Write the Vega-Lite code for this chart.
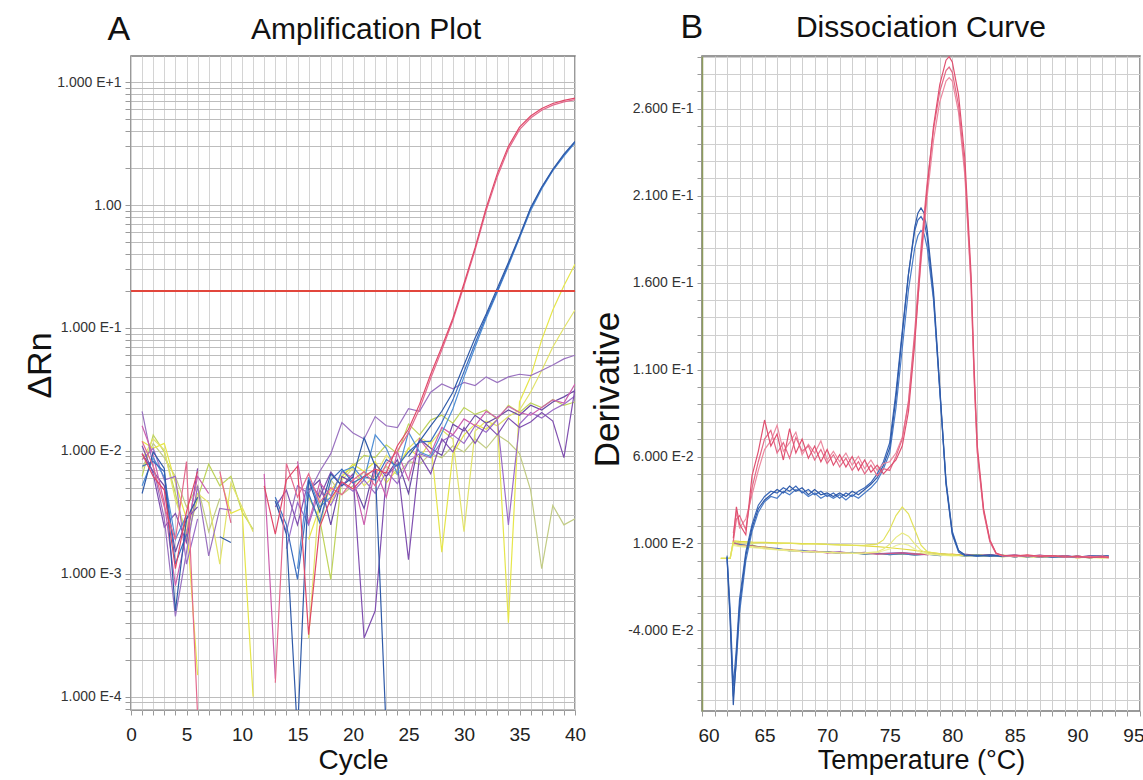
{
"$schema": "https://vega.github.io/schema/vega-lite/v6.json",
"background": "white",
"padding": {"left": 22, "top": 9, "right": 5, "bottom": 5},
"bounds": "flush",
"spacing": 127,
"config": {
  "font": "Liberation Sans",
  "view": {"stroke": "#7a7a7a", "strokeWidth": 1.5},
  "axis": {"labelFont": "Liberation Sans", "titleFont": "Liberation Sans", "titleFontWeight": "normal", "labelColor": "#333333", "titleColor": "#111111", "domain": false, "tickColor": "#9a9a9a", "labelOverlap": false, "labelBound": false},
  "title": {"font": "Liberation Sans", "fontWeight": "normal", "color": "#111111"}
},
"datasets": {
"amp": [
{"s":"G2","c":1,"v":0.0072},{"s":"G2","c":2,"v":0.0115},{"s":"G2","c":3,"v":0.0088},{"s":"G2","c":4,"v":0.0062},{"s":"G2","c":5,"v":0.0035},{"s":"G2","c":6,"v":0.0052},{"s":"G2","c":7,"v":0.0022},{"s":"G2","c":8,"v":0.0041},{"s":"G2","c":9,"v":null},{"s":"G2","c":10,"v":null},{"s":"G2","c":11,"v":null},{"s":"G2","c":12,"v":null},{"s":"G2","c":13,"v":null},{"s":"G2","c":14,"v":null},{"s":"G2","c":15,"v":null},{"s":"G2","c":16,"v":null},{"s":"G2","c":17,"v":0.0024},{"s":"G2","c":18,"v":0.0058},{"s":"G2","c":19,"v":0.0044},{"s":"G2","c":20,"v":0.0052},{"s":"G2","c":21,"v":0.0068},{"s":"G2","c":22,"v":0.0059},{"s":"G2","c":23,"v":0.0075},{"s":"G2","c":24,"v":0.0064},{"s":"G2","c":25,"v":0.0082},{"s":"G2","c":26,"v":0.0078},{"s":"G2","c":27,"v":0.0095},{"s":"G2","c":28,"v":0.0088},{"s":"G2","c":29,"v":0.011},{"s":"G2","c":30,"v":0.0098},{"s":"G2","c":31,"v":0.0125},{"s":"G2","c":32,"v":0.0105},{"s":"G2","c":33,"v":0.0135},{"s":"G2","c":34,"v":0.0118},{"s":"G2","c":35,"v":0.0095},{"s":"G2","c":36,"v":0.0048},{"s":"G2","c":37,"v":0.0011},{"s":"G2","c":38,"v":0.0036},{"s":"G2","c":39,"v":0.0025},{"s":"G2","c":40,"v":0.0028},
{"s":"G1","c":1,"v":0.0062},{"s":"G1","c":2,"v":0.0135},{"s":"G1","c":3,"v":0.0098},{"s":"G1","c":4,"v":0.0045},{"s":"G1","c":5,"v":0.0019},{"s":"G1","c":6,"v":0.0041},{"s":"G1","c":7,"v":0.0078},{"s":"G1","c":8,"v":0.0052},{"s":"G1","c":9,"v":0.0062},{"s":"G1","c":10,"v":0.0032},{"s":"G1","c":11,"v":0.0023},{"s":"G1","c":12,"v":null},{"s":"G1","c":13,"v":null},{"s":"G1","c":14,"v":null},{"s":"G1","c":15,"v":null},{"s":"G1","c":16,"v":0.0042},{"s":"G1","c":17,"v":0.0028},{"s":"G1","c":18,"v":0.0009},{"s":"G1","c":19,"v":0.0062},{"s":"G1","c":20,"v":0.0075},{"s":"G1","c":21,"v":0.0092},{"s":"G1","c":22,"v":0.0088},{"s":"G1","c":23,"v":0.0112},{"s":"G1","c":24,"v":0.0095},{"s":"G1","c":25,"v":0.0165},{"s":"G1","c":26,"v":0.0135},{"s":"G1","c":27,"v":0.0178},{"s":"G1","c":28,"v":0.0195},{"s":"G1","c":29,"v":0.0168},{"s":"G1","c":30,"v":0.0225},{"s":"G1","c":31,"v":0.0198},{"s":"G1","c":32,"v":0.0215},{"s":"G1","c":33,"v":0.018},{"s":"G1","c":34,"v":0.0235},{"s":"G1","c":35,"v":0.0205},{"s":"G1","c":36,"v":0.0245},{"s":"G1","c":37,"v":0.0225},{"s":"G1","c":38,"v":0.0262},{"s":"G1","c":39,"v":0.0235},{"s":"G1","c":40,"v":0.025},
{"s":"Y2","c":1,"v":0.0085},{"s":"Y2","c":2,"v":0.0125},{"s":"Y2","c":3,"v":0.0102},{"s":"Y2","c":4,"v":0.004},{"s":"Y2","c":5,"v":0.0022},{"s":"Y2","c":6,"v":0.0045},{"s":"Y2","c":7,"v":0.0038},{"s":"Y2","c":8,"v":0.0012},{"s":"Y2","c":9,"v":0.0055},{"s":"Y2","c":10,"v":0.0035},{"s":"Y2","c":11,"v":0.0022},{"s":"Y2","c":12,"v":null},{"s":"Y2","c":13,"v":null},{"s":"Y2","c":14,"v":null},{"s":"Y2","c":15,"v":null},{"s":"Y2","c":16,"v":0.0003},{"s":"Y2","c":17,"v":0.0048},{"s":"Y2","c":18,"v":0.0038},{"s":"Y2","c":19,"v":0.0058},{"s":"Y2","c":20,"v":0.0072},{"s":"Y2","c":21,"v":0.0052},{"s":"Y2","c":22,"v":0.0063},{"s":"Y2","c":23,"v":0.0092},{"s":"Y2","c":24,"v":0.0075},{"s":"Y2","c":25,"v":0.0105},{"s":"Y2","c":26,"v":0.0128},{"s":"Y2","c":27,"v":0.0115},{"s":"Y2","c":28,"v":0.0148},{"s":"Y2","c":29,"v":0.0125},{"s":"Y2","c":30,"v":0.0022},{"s":"Y2","c":31,"v":0.0145},{"s":"Y2","c":32,"v":0.0175},{"s":"Y2","c":33,"v":0.016},{"s":"Y2","c":34,"v":0.019},{"s":"Y2","c":35,"v":0.0215},{"s":"Y2","c":36,"v":0.03},{"s":"Y2","c":37,"v":0.045},{"s":"Y2","c":38,"v":0.07},{"s":"Y2","c":39,"v":0.1},{"s":"Y2","c":40,"v":0.14},
{"s":"Y1","c":1,"v":0.012},{"s":"Y1","c":2,"v":0.0105},{"s":"Y1","c":3,"v":0.0115},{"s":"Y1","c":4,"v":0.0055},{"s":"Y1","c":5,"v":0.0028},{"s":"Y1","c":6,"v":0.00015},{"s":"Y1","c":7,"v":null},{"s":"Y1","c":8,"v":0.0062},{"s":"Y1","c":9,"v":0.0031},{"s":"Y1","c":10,"v":0.0034},{"s":"Y1","c":11,"v":0.0001},{"s":"Y1","c":12,"v":null},{"s":"Y1","c":13,"v":null},{"s":"Y1","c":14,"v":null},{"s":"Y1","c":15,"v":null},{"s":"Y1","c":16,"v":0.0019},{"s":"Y1","c":17,"v":0.0035},{"s":"Y1","c":18,"v":0.0048},{"s":"Y1","c":19,"v":0.0062},{"s":"Y1","c":20,"v":0.0078},{"s":"Y1","c":21,"v":0.0068},{"s":"Y1","c":22,"v":0.0082},{"s":"Y1","c":23,"v":0.0055},{"s":"Y1","c":24,"v":0.0071},{"s":"Y1","c":25,"v":0.0105},{"s":"Y1","c":26,"v":0.0088},{"s":"Y1","c":27,"v":0.012},{"s":"Y1","c":28,"v":0.0015},{"s":"Y1","c":29,"v":0.0095},{"s":"Y1","c":30,"v":0.0135},{"s":"Y1","c":31,"v":0.0165},{"s":"Y1","c":32,"v":0.015},{"s":"Y1","c":33,"v":0.018},{"s":"Y1","c":34,"v":0.0004},{"s":"Y1","c":35,"v":0.025},{"s":"Y1","c":36,"v":0.04},{"s":"Y1","c":37,"v":0.08},{"s":"Y1","c":38,"v":0.14},{"s":"Y1","c":39,"v":0.22},{"s":"Y1","c":40,"v":0.33},
{"s":"P4","c":1,"v":0.0095},{"s":"P4","c":2,"v":0.0068},{"s":"P4","c":3,"v":0.0052},{"s":"P4","c":4,"v":0.0015},{"s":"P4","c":5,"v":0.0028},{"s":"P4","c":6,"v":0.0035},{"s":"P4","c":7,"v":null},{"s":"P4","c":8,"v":null},{"s":"P4","c":9,"v":null},{"s":"P4","c":10,"v":null},{"s":"P4","c":11,"v":null},{"s":"P4","c":12,"v":null},{"s":"P4","c":13,"v":null},{"s":"P4","c":14,"v":null},{"s":"P4","c":15,"v":null},{"s":"P4","c":16,"v":0.0048},{"s":"P4","c":17,"v":0.0058},{"s":"P4","c":18,"v":0.0025},{"s":"P4","c":19,"v":0.0062},{"s":"P4","c":20,"v":0.0055},{"s":"P4","c":21,"v":0.0034},{"s":"P4","c":22,"v":0.0078},{"s":"P4","c":23,"v":0.0062},{"s":"P4","c":24,"v":0.0085},{"s":"P4","c":25,"v":0.0045},{"s":"P4","c":26,"v":0.0125},{"s":"P4","c":27,"v":0.0105},{"s":"P4","c":28,"v":0.0092},{"s":"P4","c":29,"v":0.0165},{"s":"P4","c":30,"v":0.0145},{"s":"P4","c":31,"v":0.0195},{"s":"P4","c":32,"v":0.0168},{"s":"P4","c":33,"v":0.0188},{"s":"P4","c":34,"v":0.0215},{"s":"P4","c":35,"v":0.0195},{"s":"P4","c":36,"v":0.0235},{"s":"P4","c":37,"v":0.0215},{"s":"P4","c":38,"v":0.025},{"s":"P4","c":39,"v":0.0275},{"s":"P4","c":40,"v":0.031},
{"s":"P3","c":1,"v":0.0085},{"s":"P3","c":2,"v":0.0105},{"s":"P3","c":3,"v":0.0058},{"s":"P3","c":4,"v":0.0062},{"s":"P3","c":5,"v":0.0012},{"s":"P3","c":6,"v":0.0028},{"s":"P3","c":7,"v":null},{"s":"P3","c":8,"v":null},{"s":"P3","c":9,"v":null},{"s":"P3","c":10,"v":null},{"s":"P3","c":11,"v":null},{"s":"P3","c":12,"v":null},{"s":"P3","c":13,"v":null},{"s":"P3","c":14,"v":0.0016},{"s":"P3","c":15,"v":0.0038},{"s":"P3","c":16,"v":0.0025},{"s":"P3","c":17,"v":0.0048},{"s":"P3","c":18,"v":0.0036},{"s":"P3","c":19,"v":0.0055},{"s":"P3","c":20,"v":0.0047},{"s":"P3","c":21,"v":0.0058},{"s":"P3","c":22,"v":0.0045},{"s":"P3","c":23,"v":0.0068},{"s":"P3","c":24,"v":0.0054},{"s":"P3","c":25,"v":0.0082},{"s":"P3","c":26,"v":0.0095},{"s":"P3","c":27,"v":0.0088},{"s":"P3","c":28,"v":0.012},{"s":"P3","c":29,"v":0.0135},{"s":"P3","c":30,"v":0.0115},{"s":"P3","c":31,"v":0.016},{"s":"P3","c":32,"v":0.0142},{"s":"P3","c":33,"v":0.018},{"s":"P3","c":34,"v":0.0025},{"s":"P3","c":35,"v":0.0165},{"s":"P3","c":36,"v":0.0205},{"s":"P3","c":37,"v":0.0185},{"s":"P3","c":38,"v":0.0215},{"s":"P3","c":39,"v":0.024},{"s":"P3","c":40,"v":0.028},
{"s":"P2","c":1,"v":0.011},{"s":"P2","c":2,"v":0.0065},{"s":"P2","c":3,"v":0.0024},{"s":"P2","c":4,"v":0.0031},{"s":"P2","c":5,"v":0.0018},{"s":"P2","c":6,"v":0.0072},{"s":"P2","c":7,"v":null},{"s":"P2","c":8,"v":null},{"s":"P2","c":9,"v":null},{"s":"P2","c":10,"v":null},{"s":"P2","c":11,"v":null},{"s":"P2","c":12,"v":null},{"s":"P2","c":13,"v":0.0035},{"s":"P2","c":14,"v":0.0048},{"s":"P2","c":15,"v":0.0025},{"s":"P2","c":16,"v":0.0058},{"s":"P2","c":17,"v":0.0042},{"s":"P2","c":18,"v":0.0067},{"s":"P2","c":19,"v":0.0052},{"s":"P2","c":20,"v":0.0065},{"s":"P2","c":21,"v":0.0003},{"s":"P2","c":22,"v":0.0005},{"s":"P2","c":23,"v":0.0062},{"s":"P2","c":24,"v":0.0078},{"s":"P2","c":25,"v":0.0013},{"s":"P2","c":26,"v":0.0092},{"s":"P2","c":27,"v":0.0065},{"s":"P2","c":28,"v":0.0125},{"s":"P2","c":29,"v":0.0098},{"s":"P2","c":30,"v":0.0155},{"s":"P2","c":31,"v":0.0115},{"s":"P2","c":32,"v":0.0165},{"s":"P2","c":33,"v":0.0135},{"s":"P2","c":34,"v":0.0185},{"s":"P2","c":35,"v":0.0155},{"s":"P2","c":36,"v":0.0172},{"s":"P2","c":37,"v":0.0205},{"s":"P2","c":38,"v":0.0175},{"s":"P2","c":39,"v":0.0088},{"s":"P2","c":40,"v":0.032},
{"s":"P1","c":1,"v":0.021},{"s":"P1","c":2,"v":0.0075},{"s":"P1","c":3,"v":0.0028},{"s":"P1","c":4,"v":0.00045},{"s":"P1","c":5,"v":0.0015},{"s":"P1","c":6,"v":0.0052},{"s":"P1","c":7,"v":0.0014},{"s":"P1","c":8,"v":0.0034},{"s":"P1","c":9,"v":0.0033},{"s":"P1","c":10,"v":null},{"s":"P1","c":11,"v":null},{"s":"P1","c":12,"v":null},{"s":"P1","c":13,"v":0.0039},{"s":"P1","c":14,"v":0.0022},{"s":"P1","c":15,"v":0.0052},{"s":"P1","c":16,"v":0.0045},{"s":"P1","c":17,"v":0.0068},{"s":"P1","c":18,"v":0.0095},{"s":"P1","c":19,"v":0.017},{"s":"P1","c":20,"v":0.014},{"s":"P1","c":21,"v":0.0125},{"s":"P1","c":22,"v":0.019},{"s":"P1","c":23,"v":0.016},{"s":"P1","c":24,"v":0.0155},{"s":"P1","c":25,"v":0.022},{"s":"P1","c":26,"v":0.021},{"s":"P1","c":27,"v":0.03},{"s":"P1","c":28,"v":0.035},{"s":"P1","c":29,"v":0.032},{"s":"P1","c":30,"v":0.036},{"s":"P1","c":31,"v":0.034},{"s":"P1","c":32,"v":0.04},{"s":"P1","c":33,"v":0.036},{"s":"P1","c":34,"v":0.04},{"s":"P1","c":35,"v":0.042},{"s":"P1","c":36,"v":0.041},{"s":"P1","c":37,"v":0.045},{"s":"P1","c":38,"v":0.05},{"s":"P1","c":39,"v":0.056},{"s":"P1","c":40,"v":0.06},
{"s":"M1","c":1,"v":0.016},{"s":"M1","c":2,"v":0.0092},{"s":"M1","c":3,"v":0.0038},{"s":"M1","c":4,"v":0.0008},{"s":"M1","c":5,"v":0.0021},{"s":"M1","c":6,"v":0.0062},{"s":"M1","c":7,"v":0.0045},{"s":"M1","c":8,"v":null},{"s":"M1","c":9,"v":null},{"s":"M1","c":10,"v":null},{"s":"M1","c":11,"v":null},{"s":"M1","c":12,"v":0.0065},{"s":"M1","c":13,"v":0.00014},{"s":"M1","c":14,"v":null},{"s":"M1","c":15,"v":0.0082},{"s":"M1","c":16,"v":0.0026},{"s":"M1","c":17,"v":0.0055},{"s":"M1","c":18,"v":0.0043},{"s":"M1","c":19,"v":0.0068},{"s":"M1","c":20,"v":0.006},{"s":"M1","c":21,"v":0.0025},{"s":"M1","c":22,"v":0.0072},{"s":"M1","c":23,"v":0.0042},{"s":"M1","c":24,"v":0.0098},{"s":"M1","c":25,"v":0.0058},{"s":"M1","c":26,"v":0.0125},{"s":"M1","c":27,"v":0.0095},{"s":"M1","c":28,"v":0.0155},{"s":"M1","c":29,"v":0.0135},{"s":"M1","c":30,"v":0.0182},{"s":"M1","c":31,"v":0.016},{"s":"M1","c":32,"v":0.021},{"s":"M1","c":33,"v":0.0185},{"s":"M1","c":34,"v":0.023},{"s":"M1","c":35,"v":0.0205},{"s":"M1","c":36,"v":0.0195},{"s":"M1","c":37,"v":0.0225},{"s":"M1","c":38,"v":0.026},{"s":"M1","c":39,"v":0.0245},{"s":"M1","c":40,"v":0.035},
{"s":"B3","c":1,"v":0.0052},{"s":"B3","c":2,"v":0.0088},{"s":"B3","c":3,"v":0.0061},{"s":"B3","c":4,"v":0.0019},{"s":"B3","c":5,"v":0.003},{"s":"B3","c":6,"v":null},{"s":"B3","c":7,"v":null},{"s":"B3","c":8,"v":null},{"s":"B3","c":9,"v":null},{"s":"B3","c":10,"v":null},{"s":"B3","c":11,"v":null},{"s":"B3","c":12,"v":null},{"s":"B3","c":13,"v":null},{"s":"B3","c":14,"v":null},{"s":"B3","c":15,"v":0.0011},{"s":"B3","c":16,"v":0.0061},{"s":"B3","c":17,"v":0.0035},{"s":"B3","c":18,"v":0.0042},{"s":"B3","c":19,"v":0.0068},{"s":"B3","c":20,"v":0.0074},{"s":"B3","c":21,"v":0.0058},{"s":"B3","c":22,"v":0.0135},{"s":"B3","c":23,"v":0.0105},{"s":"B3","c":24,"v":0.0065},{"s":"B3","c":25,"v":0.0142},{"s":"B3","c":26,"v":0.0098},{"s":"B3","c":27,"v":0.009},{"s":"B3","c":28,"v":0.014},{"s":"B3","c":29,"v":0.022},{"s":"B3","c":30,"v":0.04},{"s":"B3","c":31,"v":0.07},{"s":"B3","c":32,"v":0.12},{"s":"B3","c":33,"v":0.195},{"s":"B3","c":34,"v":0.32},{"s":"B3","c":35,"v":0.54},{"s":"B3","c":36,"v":0.9},{"s":"B3","c":37,"v":1.35},{"s":"B3","c":38,"v":1.9},{"s":"B3","c":39,"v":2.5},{"s":"B3","c":40,"v":3.2},
{"s":"B2","c":1,"v":0.0075},{"s":"B2","c":2,"v":0.0082},{"s":"B2","c":3,"v":0.0068},{"s":"B2","c":4,"v":0.0012},{"s":"B2","c":5,"v":0.0021},{"s":"B2","c":6,"v":null},{"s":"B2","c":7,"v":null},{"s":"B2","c":8,"v":null},{"s":"B2","c":9,"v":null},{"s":"B2","c":10,"v":null},{"s":"B2","c":11,"v":null},{"s":"B2","c":12,"v":null},{"s":"B2","c":13,"v":0.0042},{"s":"B2","c":14,"v":0.0025},{"s":"B2","c":15,"v":0.0009},{"s":"B2","c":16,"v":0.0045},{"s":"B2","c":17,"v":0.0026},{"s":"B2","c":18,"v":0.0058},{"s":"B2","c":19,"v":0.0071},{"s":"B2","c":20,"v":0.0055},{"s":"B2","c":21,"v":0.0062},{"s":"B2","c":22,"v":0.0058},{"s":"B2","c":23,"v":0.0085},{"s":"B2","c":24,"v":0.0075},{"s":"B2","c":25,"v":0.0098},{"s":"B2","c":26,"v":0.0118},{"s":"B2","c":27,"v":0.012},{"s":"B2","c":28,"v":0.017},{"s":"B2","c":29,"v":0.026},{"s":"B2","c":30,"v":0.044},{"s":"B2","c":31,"v":0.075},{"s":"B2","c":32,"v":0.125},{"s":"B2","c":33,"v":0.2},{"s":"B2","c":34,"v":0.33},{"s":"B2","c":35,"v":0.55},{"s":"B2","c":36,"v":0.93},{"s":"B2","c":37,"v":1.38},{"s":"B2","c":38,"v":1.92},{"s":"B2","c":39,"v":2.55},{"s":"B2","c":40,"v":3.25},
{"s":"B1","c":1,"v":0.0045},{"s":"B1","c":2,"v":0.0098},{"s":"B1","c":3,"v":0.0072},{"s":"B1","c":4,"v":0.0005},{"s":"B1","c":5,"v":0.0028},{"s":"B1","c":6,"v":0.0042},{"s":"B1","c":7,"v":null},{"s":"B1","c":8,"v":0.002},{"s":"B1","c":9,"v":0.0018},{"s":"B1","c":10,"v":null},{"s":"B1","c":11,"v":null},{"s":"B1","c":12,"v":null},{"s":"B1","c":13,"v":0.0039},{"s":"B1","c":14,"v":0.0021},{"s":"B1","c":15,"v":0.00005},{"s":"B1","c":16,"v":0.0058},{"s":"B1","c":17,"v":0.0032},{"s":"B1","c":18,"v":0.0065},{"s":"B1","c":19,"v":0.0052},{"s":"B1","c":20,"v":0.0061},{"s":"B1","c":21,"v":0.0128},{"s":"B1","c":22,"v":0.0075},{"s":"B1","c":23,"v":0.00005},{"s":"B1","c":24,"v":null},{"s":"B1","c":25,"v":0.009},{"s":"B1","c":26,"v":0.012},{"s":"B1","c":27,"v":0.016},{"s":"B1","c":28,"v":0.021},{"s":"B1","c":29,"v":0.03},{"s":"B1","c":30,"v":0.05},{"s":"B1","c":31,"v":0.083},{"s":"B1","c":32,"v":0.13},{"s":"B1","c":33,"v":0.21},{"s":"B1","c":34,"v":0.34},{"s":"B1","c":35,"v":0.56},{"s":"B1","c":36,"v":0.95},{"s":"B1","c":37,"v":1.4},{"s":"B1","c":38,"v":1.95},{"s":"B1","c":39,"v":2.6},{"s":"B1","c":40,"v":3.3},
{"s":"R2","c":1,"v":0.012},{"s":"R2","c":2,"v":0.0075},{"s":"R2","c":3,"v":0.0035},{"s":"R2","c":4,"v":0.0019},{"s":"R2","c":5,"v":0.0082},{"s":"R2","c":6,"v":0.00007},{"s":"R2","c":7,"v":null},{"s":"R2","c":8,"v":0.0068},{"s":"R2","c":9,"v":0.0026},{"s":"R2","c":10,"v":null},{"s":"R2","c":11,"v":null},{"s":"R2","c":12,"v":null},{"s":"R2","c":13,"v":0.00013},{"s":"R2","c":14,"v":0.0079},{"s":"R2","c":15,"v":0.0042},{"s":"R2","c":16,"v":0.0065},{"s":"R2","c":17,"v":0.0038},{"s":"R2","c":18,"v":0.005},{"s":"R2","c":19,"v":0.0044},{"s":"R2","c":20,"v":0.0058},{"s":"R2","c":21,"v":0.0068},{"s":"R2","c":22,"v":0.0052},{"s":"R2","c":23,"v":0.0078},{"s":"R2","c":24,"v":0.01},{"s":"R2","c":25,"v":0.014},{"s":"R2","c":26,"v":0.022},{"s":"R2","c":27,"v":0.039},{"s":"R2","c":28,"v":0.066},{"s":"R2","c":29,"v":0.115},{"s":"R2","c":30,"v":0.22},{"s":"R2","c":31,"v":0.43},{"s":"R2","c":32,"v":0.9},{"s":"R2","c":33,"v":1.7},{"s":"R2","c":34,"v":2.85},{"s":"R2","c":35,"v":4.1},{"s":"R2","c":36,"v":5.1},{"s":"R2","c":37,"v":5.9},{"s":"R2","c":38,"v":6.5},{"s":"R2","c":39,"v":6.9},{"s":"R2","c":40,"v":7.2},
{"s":"R1","c":1,"v":0.0095},{"s":"R1","c":2,"v":0.0062},{"s":"R1","c":3,"v":0.0048},{"s":"R1","c":4,"v":0.0011},{"s":"R1","c":5,"v":0.0032},{"s":"R1","c":6,"v":0.0068},{"s":"R1","c":7,"v":null},{"s":"R1","c":8,"v":null},{"s":"R1","c":9,"v":null},{"s":"R1","c":10,"v":null},{"s":"R1","c":11,"v":null},{"s":"R1","c":12,"v":0.0052},{"s":"R1","c":13,"v":0.0021},{"s":"R1","c":14,"v":0.0058},{"s":"R1","c":15,"v":0.0075},{"s":"R1","c":16,"v":0.00032},{"s":"R1","c":17,"v":0.0024},{"s":"R1","c":18,"v":0.0041},{"s":"R1","c":19,"v":0.0056},{"s":"R1","c":20,"v":0.0049},{"s":"R1","c":21,"v":0.0062},{"s":"R1","c":22,"v":0.0071},{"s":"R1","c":23,"v":0.0066},{"s":"R1","c":24,"v":0.011},{"s":"R1","c":25,"v":0.015},{"s":"R1","c":26,"v":0.024},{"s":"R1","c":27,"v":0.042},{"s":"R1","c":28,"v":0.07},{"s":"R1","c":29,"v":0.12},{"s":"R1","c":30,"v":0.23},{"s":"R1","c":31,"v":0.45},{"s":"R1","c":32,"v":0.95},{"s":"R1","c":33,"v":1.8},{"s":"R1","c":34,"v":3.0},{"s":"R1","c":35,"v":4.3},{"s":"R1","c":36,"v":5.3},{"s":"R1","c":37,"v":6.1},{"s":"R1","c":38,"v":6.7},{"s":"R1","c":39,"v":7.1},{"s":"R1","c":40,"v":7.4}
],
"flat": [
{"s":"F1","t":62.5,"v":0.011},{"s":"F1","t":63,"v":0.0092},{"s":"F1","t":64,"v":0.0084},{"s":"F1","t":65,"v":0.0076},{"s":"F1","t":66,"v":0.0065},{"s":"F1","t":67,"v":0.0061},{"s":"F1","t":68,"v":0.0052},{"s":"F1","t":69,"v":0.0056},{"s":"F1","t":70,"v":0.0047},{"s":"F1","t":71,"v":0.0051},{"s":"F1","t":72,"v":0.0043},{"s":"F1","t":73,"v":0.0048},{"s":"F1","t":74,"v":0.004},{"s":"F1","t":75,"v":0.0045},{"s":"F1","t":76,"v":0.0047},{"s":"F1","t":77,"v":0.0041},{"s":"F1","t":78,"v":0.0036},{"s":"F1","t":79,"v":0.0042},{"s":"F1","t":80,"v":0.0033},{"s":"F1","t":81,"v":0.0038},{"s":"F1","t":82,"v":0.003},{"s":"F1","t":83,"v":0.0036},{"s":"F1","t":84,"v":0.0028},{"s":"F1","t":85,"v":0.0034},{"s":"F1","t":86,"v":0.0026},{"s":"F1","t":87,"v":0.0033},{"s":"F1","t":88,"v":0.0024},{"s":"F1","t":89,"v":0.003},{"s":"F1","t":90,"v":0.0021},{"s":"F1","t":91,"v":0.0028},{"s":"F1","t":92,"v":0.0023},{"s":"F1","t":92.5,"v":0.0027},
{"s":"F2","t":62.5,"v":0.0095},{"s":"F2","t":63,"v":0.0098},{"s":"F2","t":64,"v":0.0079},{"s":"F2","t":65,"v":0.0081},{"s":"F2","t":66,"v":0.0068},{"s":"F2","t":67,"v":0.0064},{"s":"F2","t":68,"v":0.0058},{"s":"F2","t":69,"v":0.0051},{"s":"F2","t":70,"v":0.0053},{"s":"F2","t":71,"v":0.0045},{"s":"F2","t":72,"v":0.0047},{"s":"F2","t":73,"v":0.0041},{"s":"F2","t":74,"v":0.0045},{"s":"F2","t":75,"v":0.0038},{"s":"F2","t":76,"v":0.0043},{"s":"F2","t":77,"v":0.0037},{"s":"F2","t":78,"v":0.004},{"s":"F2","t":79,"v":0.0033},{"s":"F2","t":80,"v":0.0038},{"s":"F2","t":81,"v":0.003},{"s":"F2","t":82,"v":0.0035},{"s":"F2","t":83,"v":0.0027},{"s":"F2","t":84,"v":0.0033},{"s":"F2","t":85,"v":0.0025},{"s":"F2","t":86,"v":0.0031},{"s":"F2","t":87,"v":0.0023},{"s":"F2","t":88,"v":0.003},{"s":"F2","t":89,"v":0.0021},{"s":"F2","t":90,"v":0.0027},{"s":"F2","t":91,"v":0.002},{"s":"F2","t":92,"v":0.0026},{"s":"F2","t":92.5,"v":0.0018},
{"s":"F3","t":62.5,"v":0.0105},{"s":"F3","t":63,"v":0.0087},{"s":"F3","t":64,"v":0.009},{"s":"F3","t":65,"v":0.0072},{"s":"F3","t":66,"v":0.0069},{"s":"F3","t":67,"v":0.0059},{"s":"F3","t":68,"v":0.0055},{"s":"F3","t":69,"v":0.0049},{"s":"F3","t":70,"v":0.005},{"s":"F3","t":71,"v":0.0043},{"s":"F3","t":72,"v":0.0046},{"s":"F3","t":73,"v":0.0039},{"s":"F3","t":74,"v":0.0043},{"s":"F3","t":75,"v":0.0036},{"s":"F3","t":76,"v":0.004},{"s":"F3","t":77,"v":0.0034},{"s":"F3","t":78,"v":0.0039},{"s":"F3","t":79,"v":0.0031},{"s":"F3","t":80,"v":0.0036},{"s":"F3","t":81,"v":0.0028},{"s":"F3","t":82,"v":0.0034},{"s":"F3","t":83,"v":0.0026},{"s":"F3","t":84,"v":0.0031},{"s":"F3","t":85,"v":0.0024},{"s":"F3","t":86,"v":0.0029},{"s":"F3","t":87,"v":0.0022},{"s":"F3","t":88,"v":0.0028},{"s":"F3","t":89,"v":0.002},{"s":"F3","t":90,"v":0.0025},{"s":"F3","t":91,"v":0.0019},{"s":"F3","t":92,"v":0.0024},{"s":"F3","t":92.5,"v":0.0021},
{"s":"F4","t":62.5,"v":0.0098},{"s":"F4","t":63,"v":0.0094},{"s":"F4","t":64,"v":0.0082},{"s":"F4","t":65,"v":0.0074},{"s":"F4","t":66,"v":0.0071},{"s":"F4","t":67,"v":0.0057},{"s":"F4","t":68,"v":0.006},{"s":"F4","t":69,"v":0.0048},{"s":"F4","t":70,"v":0.0052},{"s":"F4","t":71,"v":0.0042},{"s":"F4","t":72,"v":0.0048},{"s":"F4","t":73,"v":0.0038},{"s":"F4","t":74,"v":0.0044},{"s":"F4","t":75,"v":0.0035},{"s":"F4","t":76,"v":0.0041},{"s":"F4","t":77,"v":0.0033},{"s":"F4","t":78,"v":0.0038},{"s":"F4","t":79,"v":0.003},{"s":"F4","t":80,"v":0.0035},{"s":"F4","t":81,"v":0.0027},{"s":"F4","t":82,"v":0.0033},{"s":"F4","t":83,"v":0.0025},{"s":"F4","t":84,"v":0.0032},{"s":"F4","t":85,"v":0.0023},{"s":"F4","t":86,"v":0.003},{"s":"F4","t":87,"v":0.0021},{"s":"F4","t":88,"v":0.0029},{"s":"F4","t":89,"v":0.0019},{"s":"F4","t":90,"v":0.0028},{"s":"F4","t":91,"v":0.0016},{"s":"F4","t":92,"v":0.0031},{"s":"F4","t":92.5,"v":0.0024},
{"s":"F5","t":62.5,"v":0.0102},{"s":"F5","t":63,"v":0.0089},{"s":"F5","t":64,"v":0.0086},{"s":"F5","t":65,"v":0.0073},{"s":"F5","t":66,"v":0.0066},{"s":"F5","t":67,"v":0.0062},{"s":"F5","t":68,"v":0.0053},{"s":"F5","t":69,"v":0.0054},{"s":"F5","t":70,"v":0.0046},{"s":"F5","t":71,"v":0.0049},{"s":"F5","t":72,"v":0.0042},{"s":"F5","t":73,"v":0.0045},{"s":"F5","t":74,"v":0.0038},{"s":"F5","t":75,"v":0.0042},{"s":"F5","t":76,"v":0.0045},{"s":"F5","t":77,"v":0.0038},{"s":"F5","t":78,"v":0.0035},{"s":"F5","t":79,"v":0.004},{"s":"F5","t":80,"v":0.0031},{"s":"F5","t":81,"v":0.0036},{"s":"F5","t":82,"v":0.0029},{"s":"F5","t":83,"v":0.0034},{"s":"F5","t":84,"v":0.0026},{"s":"F5","t":85,"v":0.0032},{"s":"F5","t":86,"v":0.0024},{"s":"F5","t":87,"v":0.003},{"s":"F5","t":88,"v":0.0022},{"s":"F5","t":89,"v":0.0029},{"s":"F5","t":90,"v":0.0017},{"s":"F5","t":91,"v":0.0027},{"s":"F5","t":92,"v":0.002},{"s":"F5","t":92.5,"v":0.0016},
{"s":"F6","t":61.5,"v":0.0014},{"s":"F6","t":62,"v":0.0014},{"s":"F6","t":62.25,"v":0.0014},{"s":"F6","t":62.5,"v":0.0115},{"s":"F6","t":63,"v":0.0112},{"s":"F6","t":64,"v":0.0108},{"s":"F6","t":65,"v":0.0106},{"s":"F6","t":66,"v":0.0104},{"s":"F6","t":67,"v":0.0102},{"s":"F6","t":68,"v":0.0099},{"s":"F6","t":69,"v":0.0097},{"s":"F6","t":70,"v":0.0095},{"s":"F6","t":71,"v":0.0092},{"s":"F6","t":72,"v":0.009},{"s":"F6","t":73,"v":0.0086},{"s":"F6","t":74,"v":0.0082},{"s":"F6","t":75,"v":0.0075},{"s":"F6","t":76,"v":0.0068},{"s":"F6","t":77,"v":0.006},{"s":"F6","t":78,"v":0.005},{"s":"F6","t":79,"v":0.0042},{"s":"F6","t":80,"v":0.0036},{"s":"F6","t":81,"v":0.0031},{"s":"F6","t":82,"v":0.0028},{"s":"F6","t":83,"v":0.0032},{"s":"F6","t":84,"v":0.0025},{"s":"F6","t":85,"v":0.0029},{"s":"F6","t":86,"v":0.0022},{"s":"F6","t":87,"v":0.0027},{"s":"F6","t":88,"v":0.002},{"s":"F6","t":89,"v":0.0025},{"s":"F6","t":90,"v":0.0018},{"s":"F6","t":91,"v":0.0023},{"s":"F6","t":92,"v":0.0019},{"s":"F6","t":92.5,"v":0.0022}
],
"melt": [
{"s":"Y3","t":62.5,"v":0.0088},{"s":"Y3","t":63,"v":0.0082},{"s":"Y3","t":64,"v":0.0076},{"s":"Y3","t":65,"v":0.0069},{"s":"Y3","t":66,"v":0.0063},{"s":"Y3","t":67,"v":0.0057},{"s":"Y3","t":68,"v":0.0054},{"s":"Y3","t":69,"v":0.005},{"s":"Y3","t":70,"v":0.0049},{"s":"Y3","t":71,"v":0.0045},{"s":"Y3","t":72,"v":0.0043},{"s":"Y3","t":73,"v":0.0044},{"s":"Y3","t":74,"v":0.0048},{"s":"Y3","t":75,"v":0.0068},{"s":"Y3","t":75.5,"v":0.0088},{"s":"Y3","t":76,"v":0.0098},{"s":"Y3","t":76.5,"v":0.009},{"s":"Y3","t":77,"v":0.0068},{"s":"Y3","t":77.5,"v":0.0048},{"s":"Y3","t":78,"v":0.0038},{"s":"Y3","t":79,"v":0.0033},{"s":"Y3","t":80,"v":0.0028},{"s":"Y3","t":81,"v":0.0031},{"s":"Y3","t":82,"v":0.0025},{"s":"Y3","t":83,"v":0.0029},{"s":"Y3","t":84,"v":0.0022},{"s":"Y3","t":85,"v":0.0027},{"s":"Y3","t":86,"v":0.002},{"s":"Y3","t":87,"v":0.0025},{"s":"Y3","t":88,"v":0.0019},{"s":"Y3","t":89,"v":0.0023},{"s":"Y3","t":90,"v":0.0017},{"s":"Y3","t":91,"v":0.0021},{"s":"Y3","t":92,"v":0.0016},{"s":"Y3","t":92.5,"v":0.0019},
{"s":"Y2","t":61.5,"v":0.0014},{"s":"Y2","t":62,"v":0.0014},{"s":"Y2","t":62.25,"v":0.0014},{"s":"Y2","t":62.5,"v":0.0095},{"s":"Y2","t":63,"v":0.0088},{"s":"Y2","t":64,"v":0.0082},{"s":"Y2","t":65,"v":0.0074},{"s":"Y2","t":66,"v":0.0066},{"s":"Y2","t":67,"v":0.0061},{"s":"Y2","t":68,"v":0.0055},{"s":"Y2","t":69,"v":0.0052},{"s":"Y2","t":70,"v":0.0048},{"s":"Y2","t":71,"v":0.0046},{"s":"Y2","t":72,"v":0.0044},{"s":"Y2","t":73,"v":0.0046},{"s":"Y2","t":74,"v":0.0052},{"s":"Y2","t":74.5,"v":0.0068},{"s":"Y2","t":75,"v":0.0095},{"s":"Y2","t":75.5,"v":0.0135},{"s":"Y2","t":76,"v":0.016},{"s":"Y2","t":76.5,"v":0.0142},{"s":"Y2","t":77,"v":0.0098},{"s":"Y2","t":77.5,"v":0.006},{"s":"Y2","t":78,"v":0.0042},{"s":"Y2","t":79,"v":0.0035},{"s":"Y2","t":80,"v":0.0029},{"s":"Y2","t":81,"v":0.0032},{"s":"Y2","t":82,"v":0.0027},{"s":"Y2","t":83,"v":0.003},{"s":"Y2","t":84,"v":0.0024},{"s":"Y2","t":85,"v":0.0028},{"s":"Y2","t":86,"v":0.0022},{"s":"Y2","t":87,"v":0.0026},{"s":"Y2","t":88,"v":0.002},{"s":"Y2","t":89,"v":0.0024},{"s":"Y2","t":90,"v":0.0018},{"s":"Y2","t":91,"v":0.0022},{"s":"Y2","t":92,"v":0.0017},{"s":"Y2","t":92.5,"v":0.002},
{"s":"Y1","t":61.5,"v":0.0014},{"s":"Y1","t":62,"v":0.0014},{"s":"Y1","t":62.25,"v":0.0014},{"s":"Y1","t":62.5,"v":0.011},{"s":"Y1","t":63,"v":0.0105},{"s":"Y1","t":64,"v":0.0102},{"s":"Y1","t":65,"v":0.0104},{"s":"Y1","t":66,"v":0.0099},{"s":"Y1","t":67,"v":0.0101},{"s":"Y1","t":68,"v":0.0096},{"s":"Y1","t":69,"v":0.0098},{"s":"Y1","t":70,"v":0.0094},{"s":"Y1","t":71,"v":0.0092},{"s":"Y1","t":72,"v":0.0088},{"s":"Y1","t":73,"v":0.009},{"s":"Y1","t":74,"v":0.0096},{"s":"Y1","t":74.5,"v":0.012},{"s":"Y1","t":75,"v":0.018},{"s":"Y1","t":75.5,"v":0.026},{"s":"Y1","t":76,"v":0.031},{"s":"Y1","t":76.5,"v":0.027},{"s":"Y1","t":77,"v":0.018},{"s":"Y1","t":77.5,"v":0.009},{"s":"Y1","t":78,"v":0.0052},{"s":"Y1","t":79,"v":0.004},{"s":"Y1","t":80,"v":0.0034},{"s":"Y1","t":81,"v":0.0029},{"s":"Y1","t":82,"v":0.0033},{"s":"Y1","t":83,"v":0.0026},{"s":"Y1","t":84,"v":0.003},{"s":"Y1","t":85,"v":0.0023},{"s":"Y1","t":86,"v":0.0027},{"s":"Y1","t":87,"v":0.0021},{"s":"Y1","t":88,"v":0.0025},{"s":"Y1","t":89,"v":0.0019},{"s":"Y1","t":90,"v":0.0022},{"s":"Y1","t":91,"v":0.0017},{"s":"Y1","t":92,"v":0.0021},{"s":"Y1","t":92.5,"v":0.0018},
{"s":"BB3","t":62,"v":0.002},{"s":"BB3","t":62.25,"v":-0.032},{"s":"BB3","t":62.5,"v":-0.078},{"s":"BB3","t":62.75,"v":-0.058},{"s":"BB3","t":63,"v":-0.03},{"s":"BB3","t":63.5,"v":0.0},{"s":"BB3","t":64,"v":0.017},{"s":"BB3","t":64.5,"v":0.028},{"s":"BB3","t":65,"v":0.034},{"s":"BB3","t":65.5,"v":0.037},{"s":"BB3","t":66,"v":0.036},{"s":"BB3","t":66.5,"v":0.04},{"s":"BB3","t":67,"v":0.038},{"s":"BB3","t":67.5,"v":0.041},{"s":"BB3","t":68,"v":0.04},{"s":"BB3","t":68.5,"v":0.037},{"s":"BB3","t":69,"v":0.039},{"s":"BB3","t":69.5,"v":0.036},{"s":"BB3","t":70,"v":0.038},{"s":"BB3","t":70.5,"v":0.036},{"s":"BB3","t":71,"v":0.038},{"s":"BB3","t":71.5,"v":0.035},{"s":"BB3","t":72,"v":0.038},{"s":"BB3","t":72.5,"v":0.036},{"s":"BB3","t":73,"v":0.039},{"s":"BB3","t":73.5,"v":0.042},{"s":"BB3","t":74,"v":0.046},{"s":"BB3","t":74.5,"v":0.053},{"s":"BB3","t":75,"v":0.062},{"s":"BB3","t":75.5,"v":0.088},{"s":"BB3","t":76,"v":0.122},{"s":"BB3","t":76.5,"v":0.156},{"s":"BB3","t":77,"v":0.18},{"s":"BB3","t":77.25,"v":0.187},{"s":"BB3","t":77.5,"v":0.19},{"s":"BB3","t":77.75,"v":0.188},{"s":"BB3","t":78,"v":0.18},{"s":"BB3","t":78.5,"v":0.15},{"s":"BB3","t":79,"v":0.098},{"s":"BB3","t":79.5,"v":0.046},{"s":"BB3","t":80,"v":0.017},{"s":"BB3","t":80.5,"v":0.006},{"s":"BB3","t":81,"v":0.0032},{"s":"BB3","t":82,"v":0.0026},{"s":"BB3","t":83,"v":0.0032},{"s":"BB3","t":84,"v":0.0024},{"s":"BB3","t":85,"v":0.003},{"s":"BB3","t":86,"v":0.0022},{"s":"BB3","t":87,"v":0.0028},{"s":"BB3","t":88,"v":0.002},{"s":"BB3","t":89,"v":0.0026},{"s":"BB3","t":90,"v":0.0019},{"s":"BB3","t":91,"v":0.0025},{"s":"BB3","t":92,"v":0.0021},{"s":"BB3","t":92.5,"v":0.0026},
{"s":"BB2","t":62,"v":0.003},{"s":"BB2","t":62.25,"v":-0.028},{"s":"BB2","t":62.5,"v":-0.072},{"s":"BB2","t":62.75,"v":-0.05},{"s":"BB2","t":63,"v":-0.022},{"s":"BB2","t":63.5,"v":0.005},{"s":"BB2","t":64,"v":0.021},{"s":"BB2","t":64.5,"v":0.032},{"s":"BB2","t":65,"v":0.037},{"s":"BB2","t":65.5,"v":0.04},{"s":"BB2","t":66,"v":0.039},{"s":"BB2","t":66.5,"v":0.042},{"s":"BB2","t":67,"v":0.04},{"s":"BB2","t":67.5,"v":0.043},{"s":"BB2","t":68,"v":0.039},{"s":"BB2","t":68.5,"v":0.041},{"s":"BB2","t":69,"v":0.038},{"s":"BB2","t":69.5,"v":0.04},{"s":"BB2","t":70,"v":0.037},{"s":"BB2","t":70.5,"v":0.039},{"s":"BB2","t":71,"v":0.036},{"s":"BB2","t":71.5,"v":0.039},{"s":"BB2","t":72,"v":0.037},{"s":"BB2","t":72.5,"v":0.04},{"s":"BB2","t":73,"v":0.042},{"s":"BB2","t":73.5,"v":0.045},{"s":"BB2","t":74,"v":0.05},{"s":"BB2","t":74.5,"v":0.057},{"s":"BB2","t":75,"v":0.068},{"s":"BB2","t":75.5,"v":0.097},{"s":"BB2","t":76,"v":0.132},{"s":"BB2","t":76.5,"v":0.165},{"s":"BB2","t":77,"v":0.19},{"s":"BB2","t":77.25,"v":0.196},{"s":"BB2","t":77.5,"v":0.198},{"s":"BB2","t":77.75,"v":0.195},{"s":"BB2","t":78,"v":0.186},{"s":"BB2","t":78.5,"v":0.152},{"s":"BB2","t":79,"v":0.098},{"s":"BB2","t":79.5,"v":0.044},{"s":"BB2","t":80,"v":0.015},{"s":"BB2","t":80.5,"v":0.005},{"s":"BB2","t":81,"v":0.003},{"s":"BB2","t":82,"v":0.0033},{"s":"BB2","t":83,"v":0.0025},{"s":"BB2","t":84,"v":0.0031},{"s":"BB2","t":85,"v":0.0023},{"s":"BB2","t":86,"v":0.0029},{"s":"BB2","t":87,"v":0.0021},{"s":"BB2","t":88,"v":0.0027},{"s":"BB2","t":89,"v":0.002},{"s":"BB2","t":90,"v":0.0026},{"s":"BB2","t":91,"v":0.0019},{"s":"BB2","t":92,"v":0.0024},{"s":"BB2","t":92.5,"v":0.0028},
{"s":"BB1","t":62,"v":0.002},{"s":"BB1","t":62.25,"v":-0.035},{"s":"BB1","t":62.5,"v":-0.083},{"s":"BB1","t":62.75,"v":-0.055},{"s":"BB1","t":63,"v":-0.026},{"s":"BB1","t":63.5,"v":0.003},{"s":"BB1","t":64,"v":0.019},{"s":"BB1","t":64.5,"v":0.03},{"s":"BB1","t":65,"v":0.035},{"s":"BB1","t":65.5,"v":0.038},{"s":"BB1","t":66,"v":0.041},{"s":"BB1","t":66.5,"v":0.039},{"s":"BB1","t":67,"v":0.043},{"s":"BB1","t":67.5,"v":0.04},{"s":"BB1","t":68,"v":0.042},{"s":"BB1","t":68.5,"v":0.038},{"s":"BB1","t":69,"v":0.041},{"s":"BB1","t":69.5,"v":0.038},{"s":"BB1","t":70,"v":0.039},{"s":"BB1","t":70.5,"v":0.037},{"s":"BB1","t":71,"v":0.039},{"s":"BB1","t":71.5,"v":0.037},{"s":"BB1","t":72,"v":0.04},{"s":"BB1","t":72.5,"v":0.038},{"s":"BB1","t":73,"v":0.041},{"s":"BB1","t":73.5,"v":0.044},{"s":"BB1","t":74,"v":0.048},{"s":"BB1","t":74.5,"v":0.055},{"s":"BB1","t":75,"v":0.065},{"s":"BB1","t":75.5,"v":0.094},{"s":"BB1","t":76,"v":0.13},{"s":"BB1","t":76.5,"v":0.165},{"s":"BB1","t":77,"v":0.192},{"s":"BB1","t":77.25,"v":0.2},{"s":"BB1","t":77.5,"v":0.203},{"s":"BB1","t":77.75,"v":0.2},{"s":"BB1","t":78,"v":0.19},{"s":"BB1","t":78.5,"v":0.155},{"s":"BB1","t":79,"v":0.1},{"s":"BB1","t":79.5,"v":0.045},{"s":"BB1","t":80,"v":0.016},{"s":"BB1","t":80.5,"v":0.006},{"s":"BB1","t":81,"v":0.0035},{"s":"BB1","t":82,"v":0.0028},{"s":"BB1","t":83,"v":0.0034},{"s":"BB1","t":84,"v":0.0026},{"s":"BB1","t":85,"v":0.0031},{"s":"BB1","t":86,"v":0.0024},{"s":"BB1","t":87,"v":0.003},{"s":"BB1","t":88,"v":0.0022},{"s":"BB1","t":89,"v":0.0028},{"s":"BB1","t":90,"v":0.0021},{"s":"BB1","t":91,"v":0.0027},{"s":"BB1","t":92,"v":0.003},{"s":"BB1","t":92.5,"v":0.0025},
{"s":"RR3","t":62.5,"v":0.016},{"s":"RR3","t":62.75,"v":0.028},{"s":"RR3","t":63,"v":0.019},{"s":"RR3","t":63.5,"v":0.024},{"s":"RR3","t":64,"v":0.038},{"s":"RR3","t":64.5,"v":0.052},{"s":"RR3","t":65,"v":0.064},{"s":"RR3","t":65.5,"v":0.069},{"s":"RR3","t":66,"v":0.078},{"s":"RR3","t":66.5,"v":0.063},{"s":"RR3","t":67,"v":0.068},{"s":"RR3","t":67.5,"v":0.074},{"s":"RR3","t":68,"v":0.061},{"s":"RR3","t":68.5,"v":0.067},{"s":"RR3","t":69,"v":0.062},{"s":"RR3","t":69.5,"v":0.069},{"s":"RR3","t":70,"v":0.058},{"s":"RR3","t":70.5,"v":0.063},{"s":"RR3","t":71,"v":0.057},{"s":"RR3","t":71.5,"v":0.062},{"s":"RR3","t":72,"v":0.055},{"s":"RR3","t":72.5,"v":0.06},{"s":"RR3","t":73,"v":0.053},{"s":"RR3","t":73.5,"v":0.058},{"s":"RR3","t":74,"v":0.052},{"s":"RR3","t":74.5,"v":0.056},{"s":"RR3","t":75,"v":0.057},{"s":"RR3","t":75.5,"v":0.062},{"s":"RR3","t":76,"v":0.071},{"s":"RR3","t":76.5,"v":0.09},{"s":"RR3","t":77,"v":0.128},{"s":"RR3","t":77.5,"v":0.172},{"s":"RR3","t":78,"v":0.21},{"s":"RR3","t":78.5,"v":0.242},{"s":"RR3","t":79,"v":0.264},{"s":"RR3","t":79.5,"v":0.276},{"s":"RR3","t":79.75,"v":0.278},{"s":"RR3","t":80,"v":0.276},{"s":"RR3","t":80.5,"v":0.258},{"s":"RR3","t":81,"v":0.222},{"s":"RR3","t":81.5,"v":0.158},{"s":"RR3","t":81.75,"v":0.104},{"s":"RR3","t":82,"v":0.063},{"s":"RR3","t":82.5,"v":0.029},{"s":"RR3","t":83,"v":0.012},{"s":"RR3","t":83.5,"v":0.0042},{"s":"RR3","t":84,"v":0.003},{"s":"RR3","t":85,"v":0.0024},{"s":"RR3","t":86,"v":0.0031},{"s":"RR3","t":87,"v":0.0022},{"s":"RR3","t":88,"v":0.0028},{"s":"RR3","t":89,"v":0.0021},{"s":"RR3","t":90,"v":0.0025},{"s":"RR3","t":91,"v":0.0022},{"s":"RR3","t":92,"v":0.0028},{"s":"RR3","t":92.5,"v":0.0021},
{"s":"RR2","t":62.5,"v":0.011},{"s":"RR2","t":62.75,"v":0.024},{"s":"RR2","t":63,"v":0.026},{"s":"RR2","t":63.5,"v":0.018},{"s":"RR2","t":64,"v":0.042},{"s":"RR2","t":64.5,"v":0.057},{"s":"RR2","t":65,"v":0.07},{"s":"RR2","t":65.5,"v":0.075},{"s":"RR2","t":66,"v":0.062},{"s":"RR2","t":66.5,"v":0.068},{"s":"RR2","t":67,"v":0.059},{"s":"RR2","t":67.5,"v":0.071},{"s":"RR2","t":68,"v":0.063},{"s":"RR2","t":68.5,"v":0.066},{"s":"RR2","t":69,"v":0.058},{"s":"RR2","t":69.5,"v":0.064},{"s":"RR2","t":70,"v":0.056},{"s":"RR2","t":70.5,"v":0.061},{"s":"RR2","t":71,"v":0.054},{"s":"RR2","t":71.5,"v":0.059},{"s":"RR2","t":72,"v":0.052},{"s":"RR2","t":72.5,"v":0.057},{"s":"RR2","t":73,"v":0.05},{"s":"RR2","t":73.5,"v":0.055},{"s":"RR2","t":74,"v":0.049},{"s":"RR2","t":74.5,"v":0.053},{"s":"RR2","t":75,"v":0.052},{"s":"RR2","t":75.5,"v":0.06},{"s":"RR2","t":76,"v":0.07},{"s":"RR2","t":76.5,"v":0.092},{"s":"RR2","t":77,"v":0.132},{"s":"RR2","t":77.5,"v":0.18},{"s":"RR2","t":78,"v":0.218},{"s":"RR2","t":78.5,"v":0.248},{"s":"RR2","t":79,"v":0.27},{"s":"RR2","t":79.5,"v":0.282},{"s":"RR2","t":79.75,"v":0.284},{"s":"RR2","t":80,"v":0.281},{"s":"RR2","t":80.5,"v":0.262},{"s":"RR2","t":81,"v":0.226},{"s":"RR2","t":81.5,"v":0.16},{"s":"RR2","t":81.75,"v":0.105},{"s":"RR2","t":82,"v":0.062},{"s":"RR2","t":82.5,"v":0.028},{"s":"RR2","t":83,"v":0.011},{"s":"RR2","t":83.5,"v":0.004},{"s":"RR2","t":84,"v":0.0028},{"s":"RR2","t":85,"v":0.0033},{"s":"RR2","t":86,"v":0.0026},{"s":"RR2","t":87,"v":0.0031},{"s":"RR2","t":88,"v":0.0024},{"s":"RR2","t":89,"v":0.0029},{"s":"RR2","t":90,"v":0.002},{"s":"RR2","t":91,"v":0.0026},{"s":"RR2","t":92,"v":0.0019},{"s":"RR2","t":92.5,"v":0.0023},
{"s":"RR1","t":62.5,"v":0.013},{"s":"RR1","t":62.75,"v":0.031},{"s":"RR1","t":63,"v":0.021},{"s":"RR1","t":63.5,"v":0.015},{"s":"RR1","t":64,"v":0.049},{"s":"RR1","t":64.5,"v":0.063},{"s":"RR1","t":65,"v":0.081},{"s":"RR1","t":65.5,"v":0.066},{"s":"RR1","t":66,"v":0.073},{"s":"RR1","t":66.5,"v":0.058},{"s":"RR1","t":67,"v":0.076},{"s":"RR1","t":67.5,"v":0.062},{"s":"RR1","t":68,"v":0.07},{"s":"RR1","t":68.5,"v":0.059},{"s":"RR1","t":69,"v":0.066},{"s":"RR1","t":69.5,"v":0.057},{"s":"RR1","t":70,"v":0.064},{"s":"RR1","t":70.5,"v":0.055},{"s":"RR1","t":71,"v":0.061},{"s":"RR1","t":71.5,"v":0.054},{"s":"RR1","t":72,"v":0.06},{"s":"RR1","t":72.5,"v":0.052},{"s":"RR1","t":73,"v":0.058},{"s":"RR1","t":73.5,"v":0.051},{"s":"RR1","t":74,"v":0.055},{"s":"RR1","t":74.5,"v":0.05},{"s":"RR1","t":75,"v":0.054},{"s":"RR1","t":75.5,"v":0.058},{"s":"RR1","t":76,"v":0.066},{"s":"RR1","t":76.5,"v":0.086},{"s":"RR1","t":77,"v":0.125},{"s":"RR1","t":77.5,"v":0.175},{"s":"RR1","t":78,"v":0.215},{"s":"RR1","t":78.5,"v":0.25},{"s":"RR1","t":79,"v":0.274},{"s":"RR1","t":79.5,"v":0.288},{"s":"RR1","t":79.75,"v":0.29},{"s":"RR1","t":80,"v":0.287},{"s":"RR1","t":80.5,"v":0.268},{"s":"RR1","t":81,"v":0.232},{"s":"RR1","t":81.5,"v":0.165},{"s":"RR1","t":81.75,"v":0.11},{"s":"RR1","t":82,"v":0.066},{"s":"RR1","t":82.5,"v":0.03},{"s":"RR1","t":83,"v":0.012},{"s":"RR1","t":83.5,"v":0.0045},{"s":"RR1","t":84,"v":0.0032},{"s":"RR1","t":85,"v":0.0028},{"s":"RR1","t":86,"v":0.0034},{"s":"RR1","t":87,"v":0.0025},{"s":"RR1","t":88,"v":0.003},{"s":"RR1","t":89,"v":0.0022},{"s":"RR1","t":90,"v":0.0027},{"s":"RR1","t":91,"v":0.0018},{"s":"RR1","t":92,"v":0.0024},{"s":"RR1","t":92.5,"v":0.002}
]
},
"hconcat": [
{
  "width": 444, "height": 654,
  "title": {"text": "Amplification Plot", "fontSize": 30, "anchor": "middle", "dx": 13, "offset": -57, "baseline": "alphabetic"},
  "layer": [
    {
      "data": {"name": "amp"},
      "mark": {"type": "line", "clip": true, "strokeWidth": 1.2},
      "encoding": {
        "x": {"field": "c", "type": "quantitative", "scale": {"domain": [0, 40], "nice": false, "zero": false},
          "axis": {"orient": "bottom", "title": "Cycle", "titleFontSize": 28, "titlePadding": 2, "values": [0,1,2,3,4,5,6,7,8,9,10,11,12,13,14,15,16,17,18,19,20,21,22,23,24,25,26,27,28,29,30,31,32,33,34,35,36,37,38,39,40], "labelExpr": "datum.value % 5 == 0 ? datum.label : ''", "labelOverlap": false, "labelFontSize": 19, "labelColor": "#222222", "labelPadding": 10, "tickSize": 5, "labelFlush": false, "grid": true, "gridColor": "#d4d4d4"}},
        "y": {"field": "v", "type": "quantitative", "scale": {"type": "log", "domain": [0.000078, 16.3], "nice": false},
          "axis": {"title": "ΔRn", "titleFontSize": 34, "titleAngle": -90, "titleX": -81, "titleY": 309, "titleAlign": "center", "titleBaseline": "alphabetic",
            "values": [0.00008,0.00009,0.0001,0.0002,0.0003,0.0004,0.0005,0.0006,0.0007,0.0008,0.0009,0.001,0.002,0.003,0.004,0.005,0.006,0.007,0.008,0.009,0.01,0.02,0.03,0.04,0.05,0.06,0.07,0.08,0.09,0.1,0.2,0.3,0.4,0.5,0.6,0.7,0.8,0.9,1,2,3,4,5,6,7,8,9,10],
            "labelExpr": "datum.value == 10 ? '1.000 E+1' : datum.value == 1 ? '1.00' : datum.value == 0.1 ? '1.000 E-1' : datum.value == 0.01 ? '1.000 E-2' : datum.value == 0.001 ? '1.000 E-3' : datum.value == 0.0001 ? '1.000 E-4' : ''",
            "labelOverlap": false, "labelFontSize": 14, "labelPadding": 4, "tickSize": 6, "grid": true, "gridColor": "#bdbdbd"}},
        "color": {"field": "s", "type": "nominal", "legend": null,
          "scale": {"domain": ["G2","G1","Y2","Y1","P4","P3","P2","P1","M1","B3","B2","B1","R2","R1"],
                    "range": ["#c2cc84","#bfd45c","#e2e36a","#e6e64a","#6b4aa6","#9b6cc8","#8050b0","#9a72c0","#cc5fae","#4f8fd6","#3c6fc0","#2f5aa8","#e46a8e","#e04868"]}}
      }
    },
    {
      "data": {"values": [{"thr": 0.2, "x0": 0, "x1": 40}]},
      "mark": {"type": "rule", "color": "#e2463c", "strokeWidth": 2},
      "encoding": {
        "x": {"field": "x0", "type": "quantitative", "axis": {"orient": "top", "title": "A", "titleFontSize": 34, "titleX": -24, "titleY": -17, "titleAlign": "left", "titleBaseline": "alphabetic", "labels": false, "ticks": false, "grid": false, "domain": false}},
        "x2": {"field": "x1"},
        "y": {"field": "thr", "type": "quantitative"}
      }
    }
  ],
  "resolve": {"axis": {"x": "independent"}}
},
{
  "width": 438, "height": 655,
  "title": {"text": "Dissociation Curve", "fontSize": 30, "anchor": "middle", "offset": -57, "baseline": "alphabetic"},
  "layer": [
    {
      "data": {"name": "flat"},
      "mark": {"type": "line", "clip": true, "strokeWidth": 1.2},
      "encoding": {
        "x": {"field": "t", "type": "quantitative", "scale": {"domain": [60, 95], "nice": false, "zero": false},
          "axis": {"orient": "top", "title": "B", "titleFontSize": 34, "titleX": -22, "titleY": -19, "titleAlign": "left", "titleBaseline": "alphabetic", "labels": false, "ticks": false, "grid": false, "domain": false}},
        "y": {"field": "v", "type": "quantitative", "scale": {"domain": [-0.0864, 0.2904], "nice": false, "zero": false},
          "axis": {"title": "Derivative", "titleFontSize": 35, "titleAngle": -90, "titleX": -84, "titleY": 333, "titleAlign": "center", "titleBaseline": "alphabetic",
            "values": [-0.08,-0.07,-0.06,-0.05,-0.04,-0.03,-0.02,-0.01,0,0.01,0.02,0.03,0.04,0.05,0.06,0.07,0.08,0.09,0.1,0.11,0.12,0.13,0.14,0.15,0.16,0.17,0.18,0.19,0.2,0.21,0.22,0.23,0.24,0.25,0.26,0.27,0.28,0.29],
            "labelExpr": "round(datum.value*100) == 26 ? '2.600 E-1' : round(datum.value*100) == 21 ? '2.100 E-1' : round(datum.value*100) == 16 ? '1.600 E-1' : round(datum.value*100) == 11 ? '1.100 E-1' : round(datum.value*100) == 6 ? '6.000 E-2' : round(datum.value*100) == 1 ? '1.000 E-2' : round(datum.value*100) == -4 ? '-4.000 E-2' : ''",
            "labelOverlap": false, "labelFontSize": 14, "labelPadding": 4, "tickSize": 5, "grid": true, "gridColor": "#cfcfcf", "domain": true, "domainColor": "#8e9c5e", "domainWidth": 1.5}},
        "color": {"field": "s", "type": "nominal", "legend": null,
          "scale": {"domain": ["F1","F2","F3","F4","F5","F6"],
                    "range": ["#8a5cb0","#e8a040","#8cc060","#5078c8","#d0508a","#e0d840"]}}
      }
    },
    {
      "data": {"name": "melt"},
      "mark": {"type": "line", "clip": true, "strokeWidth": 1.2},
      "encoding": {
        "x": {"field": "t", "type": "quantitative", "scale": {"domain": [60, 95], "nice": false, "zero": false},
          "axis": {"orient": "bottom", "title": "Temperature (°C)", "titleFontSize": 27, "titlePadding": 2, "values": [60,61,62,63,64,65,66,67,68,69,70,71,72,73,74,75,76,77,78,79,80,81,82,83,84,85,86,87,88,89,90,91,92,93,94,95], "labelExpr": "datum.value % 5 == 0 ? datum.label : ''", "labelOverlap": false, "labelFontSize": 19, "labelColor": "#222222", "labelPadding": 10, "tickSize": 5, "labelFlush": true, "labelFlushOffset": 4, "grid": true, "gridColor": "#cfcfcf"}},
        "y": {"field": "v", "type": "quantitative", "scale": {"domain": [-0.0864, 0.2904], "nice": false, "zero": false},
          "axis": {"title": "Derivative", "titleFontSize": 35, "titleAngle": -90, "titleX": -84, "titleY": 333, "titleAlign": "center", "titleBaseline": "alphabetic",
            "values": [-0.08,-0.07,-0.06,-0.05,-0.04,-0.03,-0.02,-0.01,0,0.01,0.02,0.03,0.04,0.05,0.06,0.07,0.08,0.09,0.1,0.11,0.12,0.13,0.14,0.15,0.16,0.17,0.18,0.19,0.2,0.21,0.22,0.23,0.24,0.25,0.26,0.27,0.28,0.29],
            "labelExpr": "round(datum.value*100) == 26 ? '2.600 E-1' : round(datum.value*100) == 21 ? '2.100 E-1' : round(datum.value*100) == 16 ? '1.600 E-1' : round(datum.value*100) == 11 ? '1.100 E-1' : round(datum.value*100) == 6 ? '6.000 E-2' : round(datum.value*100) == 1 ? '1.000 E-2' : round(datum.value*100) == -4 ? '-4.000 E-2' : ''",
            "labelOverlap": false, "labelFontSize": 14, "labelPadding": 4, "tickSize": 5, "grid": true, "gridColor": "#cfcfcf", "domain": true, "domainColor": "#8e9c5e", "domainWidth": 1.5}},
        "color": {"field": "s", "type": "nominal", "legend": null,
          "scale": {"domain": ["Y3","Y2","Y1","BB3","BB2","BB1","RR3","RR2","RR1"],
                    "range": ["#eef09a","#e8ea80","#e2e25a","#4a7cc8","#3a68b8","#2f5aa8","#ec8aa0","#e46a88","#e05070"]}}
      }
    }
  ],
  "resolve": {"axis": {"x": "independent"}, "scale": {"color": "independent"}}
}
]
}
